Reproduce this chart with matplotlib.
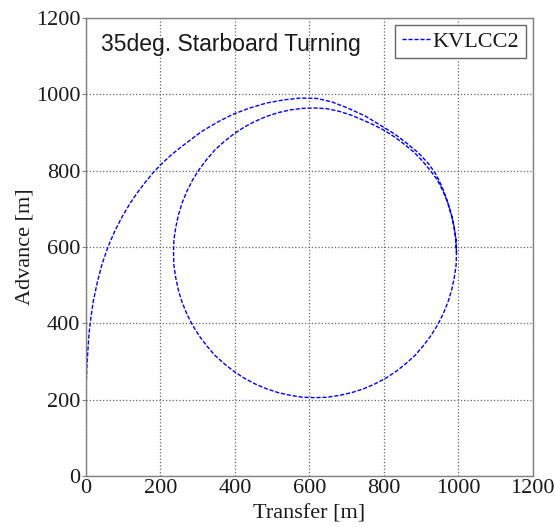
import matplotlib
matplotlib.use("Agg")
import matplotlib.pyplot as plt

# turning circle track, transfer / advance in metres
# first pass: approach and the widening first turn
transfer_in = [0, 0, 0, 2, 5, 8, 11, 19, 30, 43, 59, 77, 97, 117, 137, 158, 179,
               200, 230, 261, 310, 355, 396, 440, 485, 530, 575, 620, 660, 700,
               750, 797, 830, 861, 893, 920, 940, 955, 967, 977, 986, 992]
advance_in = [0, 100, 225, 280, 330, 370, 400, 455, 506, 555, 600, 641, 679, 712,
              741, 768, 793, 815, 842, 866, 902, 928, 948, 964, 977, 985, 990,
              989, 980, 965, 943, 915, 895, 872, 846, 818, 790, 760, 730, 698,
              665, 630]
# steady turning circle, clockwise from the starboard side
transfer_loop = [995, 994, 989, 982, 972, 959, 944, 926, 906, 884, 859, 833, 805,
                 776, 745, 713, 681, 648, 615, 582, 549, 517, 485, 454, 425, 397,
                 371, 346, 324, 304, 286, 271, 258, 248, 241, 236, 235, 236, 241,
                 248, 258, 271, 286, 304, 324, 346, 371, 397, 425, 454, 485, 517,
                 549, 582, 615, 648, 681, 713, 742, 772, 800, 829, 856, 881, 903,
                 924, 944, 959, 972, 982, 989, 994, 995]
advance_loop = [585, 552, 519, 487, 455, 424, 395, 367, 341, 316, 294, 274, 256,
                241, 228, 218, 211, 206, 205, 206, 211, 218, 228, 241, 256, 274,
                294, 316, 341, 367, 395, 424, 455, 487, 519, 552, 585, 618, 651,
                683, 715, 746, 775, 803, 829, 854, 876, 896, 914, 929, 942, 952,
                959, 963, 964, 962, 955, 945, 933, 920, 906, 888, 868, 848, 826,
                801, 775, 746, 715, 683, 651, 618, 585]

ticks = [0, 200, 400, 600, 800, 1000, 1200]

serif = ["Liberation Serif", "DejaVu Serif"]
sans = ["Liberation Sans", "DejaVu Sans"]
ink = "#1a1a1a"

fig = plt.figure(figsize=(5.55, 5.27), dpi=100)
ax = fig.add_axes([0.155, 0.097, 0.805, 0.869])

ax.plot(transfer_in + transfer_loop, advance_in + advance_loop, color="#0000ff",
        lw=1.0, ls="--", dashes=(3, 1.3), label="KVLCC2")

ax.set_xlim(0, 1200)
ax.set_ylim(0, 1200)
ax.set_xticks(ticks)
ax.set_yticks(ticks)
ax.grid(True, ls=":", lw=0.9, color="0.4")
ax.set_axisbelow(True)

for s in ax.spines.values():
    s.set_color("0.5")
    s.set_linewidth(1.0)

ax.tick_params(axis="y", direction="out", length=3, color="0.5", pad=1)
ax.tick_params(axis="x", direction="in", length=0, pad=2)
for lab in ax.get_xticklabels() + ax.get_yticklabels():
    lab.set_family(serif)
    lab.set_fontsize(16)
    lab.set_color(ink)

ax.set_xlabel("Transfer [m]", family=serif, fontsize=16, color=ink, labelpad=5)
ax.set_ylabel("Advance [m]", family=serif, fontsize=16, color=ink, labelpad=1)

ax.text(0.034, 0.968, "35deg. Starboard Turning", transform=ax.transAxes,
        family=sans, fontsize=16.5, color=ink, va="top", ha="left")

leg = ax.legend(loc="upper right", prop={"family": serif, "size": 16},
                handlelength=1.3, handletextpad=0.1, borderpad=0.3,
                borderaxespad=0.3, fancybox=False, framealpha=1)
leg.get_frame().set_edgecolor("0.4")
leg.get_frame().set_linewidth(1.0)
for t in leg.get_texts():
    t.set_color(ink)

fig.savefig("out.png", dpi=100)
